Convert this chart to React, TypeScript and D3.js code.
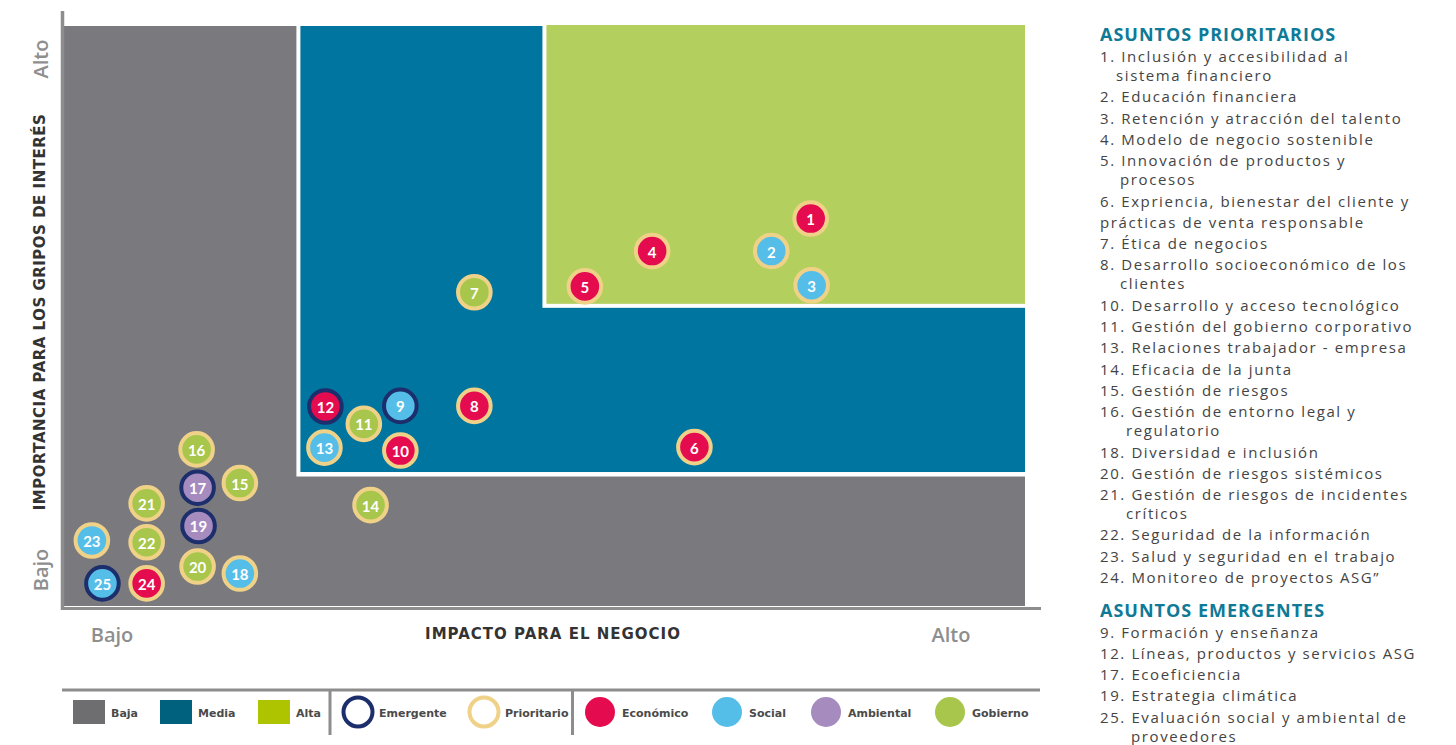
import React from "react";
import * as d3 from "d3";

// ---------- DATA ----------
const CATEGORIES = ["Económico", "Social", "Ambiental", "Gobierno"];
const CATEGORY_COLORS = ["#e50b4f", "#55bee8", "#a68bbf", "#a7c64b"];

const LEVELS = ["Baja", "Media", "Alta"];
const LEVEL_COLORS = ["#6e6e70", "#00617f", "#aec400"];

const TYPES = ["Emergente", "Prioritario"];
const TYPE_COLORS = ["#1c2e6b", "#efd288"];

const ISSUE_IDS = [1, 2, 3, 4, 5, 6, 7, 8, 9, 10, 11, 12, 13, 14, 15, 16, 17, 18, 19, 20, 21, 22, 23, 24, 25];
// Impacto para el negocio (0-100)
const IMPACT = [77.7, 73.6, 77.8, 61.2, 54.2, 65.6, 42.7, 42.7, 35.0, 35.0, 31.2, 27.2, 27.1, 31.9, 18.3, 13.8, 13.9, 18.3, 14.0, 13.9, 8.6, 8.6, 2.9, 8.6, 4.0];
// Importancia para los grupos de interés (0-100)
const IMPORTANCE = [66.8, 61.2, 55.3, 61.2, 55.1, 27.4, 54.1, 34.5, 34.5, 26.8, 31.4, 34.4, 27.3, 17.4, 21.2, 27.0, 20.4, 5.6, 13.8, 6.8, 17.7, 11.0, 11.3, 3.9, 3.9];
// category index into CATEGORIES
const ISSUE_CATEGORY = [0, 1, 1, 0, 0, 0, 3, 0, 1, 0, 3, 0, 1, 3, 3, 3, 2, 1, 2, 3, 3, 3, 1, 0, 1];
// type index into TYPES (0 Emergente, 1 Prioritario)
const ISSUE_TYPE = [1, 1, 1, 1, 1, 1, 1, 1, 0, 1, 1, 0, 1, 1, 1, 1, 0, 1, 0, 1, 1, 1, 1, 1, 0];

// zone thresholds (same 0-100 scale)
const MEDIA_X = 24.6;
const ALTA_X = 50.2;
const MEDIA_Y = 23.1;
const ALTA_Y = 52.1;

const Y_TITLE = "IMPORTANCIA PARA LOS GRIPOS DE INTERÉS";
const X_TITLE = "IMPACTO PARA EL NEGOCIO";
const LOW_LABEL = "Bajo";
const HIGH_LABEL = "Alto";

const PRIORITY_TITLE = "ASUNTOS PRIORITARIOS";
// [text, continuation?, indent]
const PRIORITY_LINES: [string, boolean, number][] = [
  ["1. Inclusión y accesibilidad al", false, 0],
  ["sistema financiero", true, 16],
  ["2. Educación financiera", false, 0],
  ["3. Retención y atracción del talento", false, 0],
  ["4. Modelo de negocio sostenible", false, 0],
  ["5. Innovación de productos y", false, 0],
  ["procesos", true, 20],
  ["6. Expriencia, bienestar del cliente y", false, 0],
  ["prácticas de venta responsable", false, 0],
  ["7. Ética de negocios", false, 0],
  ["8. Desarrollo socioeconómico de los", false, 0],
  ["clientes", true, 20],
  ["10. Desarrollo y acceso tecnológico", false, 0],
  ["11. Gestión del gobierno corporativo", false, 0],
  ["13. Relaciones trabajador - empresa", false, 0],
  ["14. Eficacia de la junta", false, 0],
  ["15. Gestión de riesgos", false, 0],
  ["16. Gestión de entorno legal y", false, 0],
  ["regulatorio", true, 26],
  ["18. Diversidad e inclusión", false, 0],
  ["20. Gestión de riesgos sistémicos", false, 0],
  ["21. Gestión de riesgos de incidentes", false, 0],
  ["críticos", true, 26],
  ["22. Seguridad de la información", false, 0],
  ["23. Salud y seguridad en el trabajo", false, 0],
  ["24. Monitoreo de proyectos ASG”", false, 0],
];
const EMERGING_TITLE = "ASUNTOS EMERGENTES";
const EMERGING_LINES: [string, boolean, number][] = [
  ["9. Formación y enseñanza", false, 0],
  ["12. Líneas, productos y servicios ASG", false, 0],
  ["17. Ecoeficiencia", false, 0],
  ["19. Estrategia climática", false, 0],
  ["25. Evaluación social y ambiental de", false, 0],
  ["proveedores", true, 31],
];

// ---------- LAYOUT ----------
const W = 1456;
const H = 745;
const PL = 64, PR = 1025, PT = 26, PB = 606;

const AXIS_GRAY = "#8d8d8d";
const CHART_FONT = "'DejaVu Sans', sans-serif";
const LIST_FONT = "'Open Sans', sans-serif";

function listYs(lines: [string, boolean, number][], start: number) {
  const ys: number[] = [];
  let y = start;
  lines.forEach((l, i) => {
    if (i > 0) y += l[1] ? 19 : 21.3;
    ys.push(y);
  });
  return ys;
}

export default function App() {
  const x = d3.scaleLinear().domain([0, 100]).range([PL, PR]);
  const y = d3.scaleLinear().domain([0, 100]).range([PB, PT]);
  const catColor = d3.scaleOrdinal<number, string>().domain(d3.range(CATEGORIES.length)).range(CATEGORY_COLORS);
  const typeColor = d3.scaleOrdinal<number, string>().domain(d3.range(TYPES.length)).range(TYPE_COLORS);

  const issues = ISSUE_IDS.map((id, i) => ({
    id,
    cx: x(IMPACT[i]),
    cy: y(IMPORTANCE[i]),
    fill: catColor(ISSUE_CATEGORY[i]),
    ring: typeColor(ISSUE_TYPE[i]),
  }));

  const prioYs = listYs(PRIORITY_LINES, 56);
  const emerYs = listYs(EMERGING_LINES, 631.5);

  const legendY = 712;
  const levelX = [73, 160, 258];
  const typeX = [358, 484];
  const catX = [600, 727, 826, 950];

  const legendText = {
    fontFamily: CHART_FONT,
    fontSize: 11,
    fontWeight: 700 as const,
    fill: "#4a4a4a",
  };
  const endLabel = {
    fontFamily: "'Open Sans', sans-serif",
    fontSize: 20,
    fontWeight: 600 as const,
    fill: "#8e8e8e",
  };
  const listText = { fontFamily: LIST_FONT, fontSize: 15, fill: "#444", letterSpacing: 1.6 };
  const headText = { fontFamily: LIST_FONT, fontSize: 18, fontWeight: 700 as const, fill: "#0e7a96", letterSpacing: 1.0 };

  return (
    <svg width={W} height={H} style={{ position: "absolute", left: 0, top: 0, background: "#fff" }}>
      {/* zones */}
      <rect x={x(0)} y={y(100)} width={x(100) - x(0)} height={y(0) - y(100)} fill="#7a7a7e" />
      <rect x={x(MEDIA_X) - 4} y={y(100)} width={x(100) - x(MEDIA_X) + 4} height={y(MEDIA_Y) - y(100) + 4.5} fill="#ffffff" />
      <rect x={x(MEDIA_X)} y={y(100)} width={x(100) - x(MEDIA_X)} height={y(MEDIA_Y) - y(100)} fill="#0075a0" />
      <rect x={x(ALTA_X) - 4} y={y(100) - 1} width={x(100) - x(ALTA_X) + 4} height={y(ALTA_Y) - y(100) + 5} fill="#ffffff" />
      <rect x={x(ALTA_X)} y={y(100) - 1} width={x(100) - x(ALTA_X)} height={y(ALTA_Y) - y(100) + 1} fill="#b3cf5d" />

      {/* axes */}
      <line x1={62.5} x2={62.5} y1={11} y2={610} stroke={AXIS_GRAY} strokeWidth={3.5} />
      <line x1={61} x2={1041} y1={608.5} y2={608.5} stroke={AXIS_GRAY} strokeWidth={3} />

      {/* y labels */}
      <text transform={`translate(40,${59}) rotate(-90)`} textAnchor="middle" dominantBaseline="central" style={endLabel}>{HIGH_LABEL}</text>
      <text transform={`translate(40,${312}) rotate(-90)`} textAnchor="middle" dominantBaseline="central"
        style={{ fontFamily: CHART_FONT, fontSize: 15, fontWeight: 700, fill: "#333", letterSpacing: 0.5 }}>{Y_TITLE}</text>
      <text transform={`translate(40,${570}) rotate(-90)`} textAnchor="middle" dominantBaseline="central" style={endLabel}>{LOW_LABEL}</text>

      {/* x labels */}
      <text x={112} y={634} textAnchor="middle" dominantBaseline="central" style={endLabel}>{LOW_LABEL}</text>
      <text x={553} y={634} textAnchor="middle" dominantBaseline="central"
        style={{ fontFamily: CHART_FONT, fontSize: 15, fontWeight: 700, fill: "#333", letterSpacing: 1.0 }}>{X_TITLE}</text>
      <text x={951} y={634} textAnchor="middle" dominantBaseline="central" style={endLabel}>{HIGH_LABEL}</text>

      {/* bubbles */}
      {issues.map((d) => (
        <g key={d.id} transform={`translate(${d.cx},${d.cy})`}>
          <circle r={16.3} fill={d.fill} stroke={d.ring} strokeWidth={4} />
          <text textAnchor="middle" dominantBaseline="central" y={0.5}
            style={{ fontFamily: "Lato, sans-serif", fontWeight: 700, fontSize: 15, fill: "#fff" }}>{d.id}</text>
        </g>
      ))}

      {/* legend */}
      <line x1={62} x2={1040} y1={690} y2={690} stroke={AXIS_GRAY} strokeWidth={3} />
      <line x1={330} x2={330} y1={690} y2={735} stroke={AXIS_GRAY} strokeWidth={3} />
      <line x1={572.5} x2={572.5} y1={690} y2={735} stroke={AXIS_GRAY} strokeWidth={3} />
      {LEVELS.map((l, i) => (
        <g key={l}>
          <rect x={levelX[i]} y={legendY - 12} width={32} height={24} fill={LEVEL_COLORS[i]} />
          <text x={levelX[i] + 38} y={legendY + 1} dominantBaseline="central" style={legendText}>{l}</text>
        </g>
      ))}
      {TYPES.map((t, i) => (
        <g key={t}>
          <circle cx={typeX[i]} cy={legendY} r={14.5} fill="#fff" stroke={TYPE_COLORS[i]} strokeWidth={4} />
          <text x={typeX[i] + 21} y={legendY + 1} dominantBaseline="central" style={legendText}>{t}</text>
        </g>
      ))}
      {CATEGORIES.map((c, i) => (
        <g key={c}>
          <circle cx={catX[i]} cy={legendY} r={15} fill={CATEGORY_COLORS[i]} />
          <text x={catX[i] + 22} y={legendY + 1} dominantBaseline="central" style={legendText}>{c}</text>
        </g>
      ))}

      {/* right panel */}
      <text x={1100} y={34} dominantBaseline="central" style={headText}>{PRIORITY_TITLE}</text>
      {PRIORITY_LINES.map((l, i) => (
        <text key={i} x={1100 + l[2]} y={prioYs[i]} dominantBaseline="central" style={listText}>{l[0]}</text>
      ))}
      <text x={1100} y={610} dominantBaseline="central" style={headText}>{EMERGING_TITLE}</text>
      {EMERGING_LINES.map((l, i) => (
        <text key={i} x={1100 + l[2]} y={emerYs[i]} dominantBaseline="central" style={listText}>{l[0]}</text>
      ))}
    </svg>
  );
}
